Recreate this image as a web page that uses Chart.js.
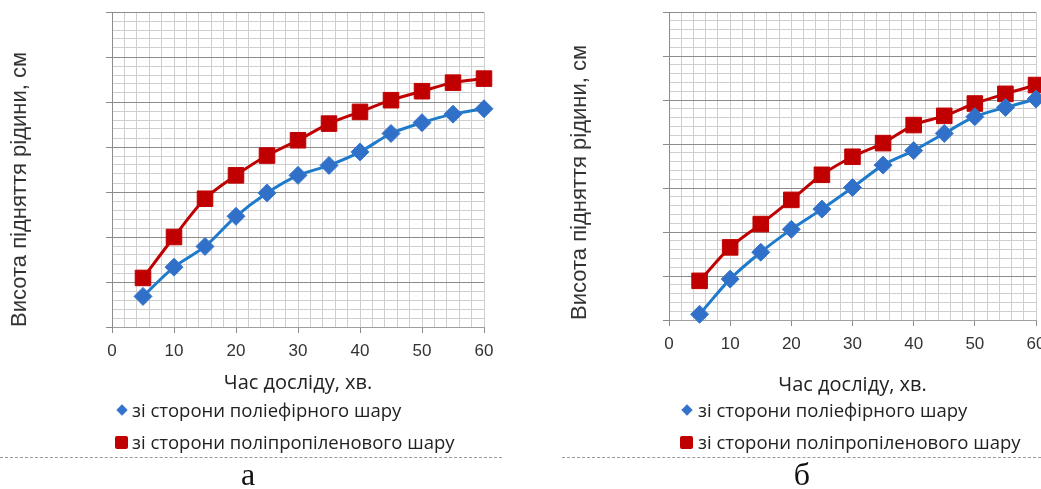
<!DOCTYPE html>
<html lang="uk">
<head>
<meta charset="UTF-8">
<title>Висота підняття рідини</title>
<script src="https://cdn.jsdelivr.net/npm/chart.js"></script>
<style>
  body { margin: 0; width: 1041px; height: 489px; overflow: hidden; background: #fff; position: relative; }
  canvas { position: absolute; top: 0; }
  .legend { position: absolute; font-family: "Open Sans", sans-serif; font-size: 18.5px; color: #222; white-space: nowrap; line-height: 22px; }
  .mk { position: absolute; }
  .diamond { width: 8px; height: 8px; background: #3473cc; transform: rotate(45deg); }
  .square { width: 13px; height: 13px; background: #c00000; border-radius: 2px; }
  .sep { position: absolute; top: 457px; height: 0; border-top: 1px dashed #9a9a9a; }
  .cap { position: absolute; top: 458px; width: 100px; text-align: center; font-family: "Liberation Serif", serif; font-size: 32px; line-height: 32px; color: #111; }
</style>
</head>
<body>

<canvas id="chartA" width="520" height="400" style="left:0"></canvas>
<canvas id="chartB" width="520" height="400" style="left:560px"></canvas>

<div id="legendA"></div>
<div id="legendB"></div>

<div class="sep" style="left:0; width:502px"></div>
<div class="sep" style="left:562px; width:479px"></div>
<div class="cap" style="left:198px">а</div>
<div class="cap" style="left:752px">б</div>

<script>
// час досліду, хв.
const timeMin = [5, 10, 15, 20, 25, 30, 35, 40, 45, 50, 55, 60];
const seriesNames = ['зі сторони поліефірного шару', 'зі сторони поліпропіленового шару'];

// висота (в поділках сітки) - рисунок а
const polyesterA = [0.68, 1.33, 1.79, 2.46, 2.98, 3.37, 3.59, 3.89, 4.30, 4.54, 4.73, 4.85];
const polypropA  = [1.09, 2.00, 2.85, 3.37, 3.81, 4.15, 4.52, 4.78, 5.04, 5.24, 5.43, 5.52];

// рисунок б
const polyesterB = [0.13, 0.93, 1.54, 2.06, 2.52, 3.01, 3.52, 3.85, 4.24, 4.62, 4.83, 5.02];
const polypropB  = [0.89, 1.65, 2.18, 2.73, 3.30, 3.71, 4.02, 4.43, 4.64, 4.92, 5.14, 5.34];

const xRange = [0, 60];
const yRange = [0, 7];

function isWhole(v, step) {
    return Math.abs(v / step - Math.round(v / step)) < 1e-6;
}

function makeChart(id, blue, red, yWidth, padRight, xHeight, titlePad) {
    const toPoints = arr => arr.map((v, i) => ({ x: timeMin[i], y: v }));
    return new Chart(document.getElementById(id), {
        type: 'line',
        data: {
            datasets: [{
                label: seriesNames[0],
                data: toPoints(blue),
                borderColor: '#1e7bcc',
                borderWidth: 3,
                backgroundColor: '#3070c8',
                pointBackgroundColor: '#3070c8',
                pointBorderColor: '#3a78cc',
                pointBorderWidth: 1,
                pointStyle: 'rectRot',
                pointRadius: 9,
                tension: 0.3,
                clip: false
            }, {
                label: seriesNames[1],
                data: toPoints(red),
                borderColor: '#c00000',
                borderWidth: 3,
                backgroundColor: '#c00000',
                pointBackgroundColor: '#c00000',
                pointBorderColor: '#c00000',
                pointBorderWidth: 1,
                pointStyle: 'rect',
                pointRadius: 11,
                tension: 0.3,
                clip: false
            }]
        },
        options: {
            responsive: false,
            animation: false,
            layout: { padding: { top: 12, right: padRight, left: 0, bottom: 0 } },
            plugins: { legend: { display: false }, tooltip: { enabled: false } },
            scales: {
                x: {
                    type: 'linear',
                    min: xRange[0],
                    max: xRange[1],
                    afterFit: s => { s.height = xHeight; },
                    ticks: {
                        stepSize: 2,
                        autoSkip: false,
                        maxRotation: 0,
                        padding: 8,
                        color: '#333',
                        font: { family: 'Liberation Sans', size: 17 },
                        callback: v => isWhole(v, 10) ? v : ''
                    },
                    grid: {
                        color: '#cfcfcf',
                        tickLength: 6,
                        tickColor: c => isWhole(c.tick.value, 10) ? '#8c8c8c' : 'rgba(0,0,0,0)'
                    },
                    border: { color: '#a0a0a0' },
                    title: {
                        display: true,
                        text: 'Час досліду, хв.',
                        color: '#222',
                        font: { family: 'Open Sans', size: 20 },
                        padding: { top: 0, bottom: titlePad }
                    }
                },
                y: {
                    min: yRange[0],
                    max: yRange[1],
                    afterFit: s => { s.width = yWidth; },
                    ticks: {
                        stepSize: 0.2,
                        autoSkip: false,
                        callback: () => ''
                    },
                    grid: {
                        color: c => isWhole(c.tick.value, 1) ? '#8c8c8c' : '#cfcfcf',
                        tickLength: 6,
                        tickColor: c => isWhole(c.tick.value, 1) ? '#8c8c8c' : 'rgba(0,0,0,0)'
                    },
                    border: { color: '#8c8c8c' },
                    title: {
                        display: true,
                        text: 'Висота підняття рідини, см',
                        align: 'start',
                        color: '#333',
                        font: { family: 'Liberation Sans', size: 22 },
                        padding: { top: 7, bottom: 0 }
                    }
                }
            }
        }
    });
}

function makeLegend(id, markX, textX) {
    const box = document.getElementById(id);
    const rows = [
        { cls: 'diamond', y: 410, half: 4 },
        { cls: 'square', y: 442, half: 6.5 }
    ];
    rows.forEach((r, i) => {
        const mk = document.createElement('div');
        mk.className = 'mk ' + r.cls;
        mk.style.left = (markX - r.half) + 'px';
        mk.style.top = (r.y - r.half) + 'px';
        box.appendChild(mk);
        const t = document.createElement('div');
        t.className = 'legend';
        t.textContent = seriesNames[i];
        t.style.left = textX + 'px';
        t.style.top = (r.y - 11) + 'px';
        box.appendChild(t);
    });
}

makeChart('chartA', polyesterA, polypropA, 112, 36, 73, 4.5);
makeChart('chartB', polyesterB, polypropB, 109, 44, 80, 3);
makeLegend('legendA', 121.5, 132);
makeLegend('legendB', 686.5, 698);
</script>

</body>
</html>
